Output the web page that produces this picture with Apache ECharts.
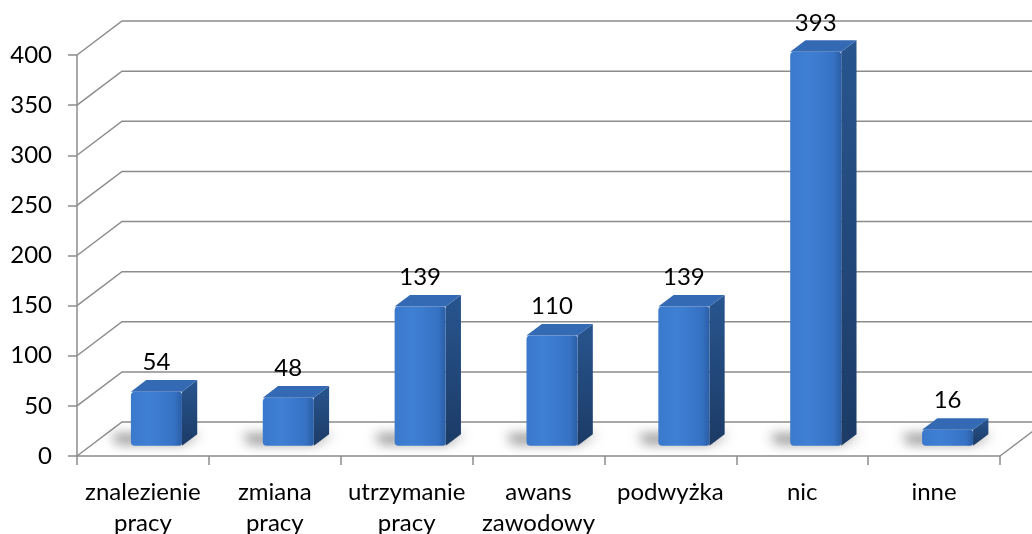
<!DOCTYPE html>
<html lang="pl">
<head>
<meta charset="UTF-8">
<title>Wykres</title>
<script src="https://cdn.jsdelivr.net/npm/echarts@6/dist/echarts.min.js"></script>
<style>
    html, body { margin: 0; padding: 0; background: #fff; }
    #chart { width: 1032px; height: 534px; }
</style>
</head>
<body>
<div id="chart"></div>
<script>
    const categories = ['znalezienie\npracy', 'zmiana\npracy', 'utrzymanie\npracy', 'awans\nzawodowy', 'podwyżka', 'nic', 'inne'];
    const values = [54, 48, 139, 110, 139, 393, 16];
    const yTicks = [0, 50, 100, 150, 200, 250, 300, 350, 400];

    const DX = 45, DY = 34;        // depth of the 3D floor / walls
    const FONT = 'Lato';
    const GRID = '#8c8c8c';
    const FAR = 3000;              // shadow shape is drawn off screen, only its blur is shown

    const chart = echarts.init(document.getElementById('chart'));

    // grid lines drawn as the left wall + back wall
    function wallLine(params, api) {
        const cs = params.coordSys;
        const y = api.coord([0, api.value(1)])[1];
        const x0 = cs.x;
        const children = [{
            type: 'polyline',
            shape: { points: [[x0, y], [x0 + DX, y - DY], [x0 + cs.width + 200, y - DY]] },
            style: { stroke: GRID, lineWidth: 1.5, fill: null }
        }];
        if (api.value(1) === 0) {
            // right edge of the floor
            const xr = x0 + cs.width;
            children.push({
                type: 'line',
                shape: { x1: xr, y1: y, x2: xr + DX, y2: y - DY },
                style: { stroke: GRID, lineWidth: 1.5 }
            });
        }
        return { type: 'group', children: children, silent: true };
    }

    function bar3d(params, api) {
        const i = api.value(0), v = api.value(1);
        const base = api.coord([i, 0]);
        const top = api.coord([i, v]);
        const w = api.size([1, 0])[0] * 0.387;
        const f = 0.3, d = 0.34;
        const cx = base[0] + f * DX;
        const by = base[1] - f * DY;
        const ty = top[1] - f * DY;
        const x1 = cx - w / 2, x2 = cx + w / 2;
        const ox = d * DX, oy = d * DY;

        return {
            type: 'group',
            children: [
                {   // soft floor shadow
                    type: 'polygon',
                    shape: { points: [[x1 - 14 - FAR, by - 2], [x2 - FAR, by - 2], [x2 + ox + 4 - FAR, by - oy], [x1 - 20 - FAR, by - oy]] },
                    style: { fill: '#000', shadowBlur: 12, shadowOffsetX: FAR, shadowColor: 'rgba(0,0,0,0.45)' }
                },
                {   // side face
                    type: 'polygon',
                    shape: { points: [[x2, ty], [x2 + ox, ty - oy], [x2 + ox, by - oy], [x2, by]] },
                    style: {
                        fill: new echarts.graphic.LinearGradient(0, 0, 0, 1, [
                            { offset: 0, color: '#28558f' },
                            { offset: 1, color: '#1c3b66' }
                        ])
                    }
                },
                {   // top face
                    type: 'polygon',
                    shape: { points: [[x1, ty], [x1 + ox, ty - oy], [x2 + ox, ty - oy], [x2, ty]] },
                    style: { fill: '#3469b3' }
                },
                {   // front face
                    type: 'rect',
                    shape: { x: x1, y: ty, width: w, height: by - ty, r: [4, 3, 3, 4] },
                    style: {
                        fill: new echarts.graphic.LinearGradient(0, 0, 1, 0, [
                            { offset: 0, color: '#3a79cc' },
                            { offset: 0.35, color: '#3f80d4' },
                            { offset: 0.85, color: '#3672c4' },
                            { offset: 1, color: '#2b5ea6' }
                        ])
                    }
                },
                {
                    type: 'text',
                    style: {
                        x: cx, y: ty - 29, text: String(v),
                        font: '24px ' + FONT, fill: '#000',
                        align: 'center', verticalAlign: 'middle'
                    }
                }
            ]
        };
    }

    const option = {
        animation: false,
        grid: { left: 77, right: 32, top: 55, bottom: 78, containLabel: false, outerBoundsMode: 'none' },
        xAxis: {
            type: 'category',
            data: categories,
            boundaryGap: true,
            axisLine: { lineStyle: { color: GRID, width: 1.5 } },
            axisTick: { show: true, length: 9, lineStyle: { color: GRID, width: 1.5 } },
            axisLabel: { color: '#000', fontFamily: FONT, fontSize: 24, lineHeight: 31, margin: 21, interval: 0 }
        },
        yAxis: {
            type: 'value',
            min: 0, max: 400, interval: 50,
            axisLine: { show: true, lineStyle: { color: GRID, width: 1.5 } },
            axisTick: { show: true, length: 9, lineStyle: { color: GRID, width: 1.5 } },
            axisLabel: { color: '#000', fontFamily: FONT, fontSize: 24, margin: 25 },
            splitLine: { show: false }
        },
        series: [
            {
                type: 'custom',
                z: 1,
                renderItem: wallLine,
                data: yTicks.map(t => [0, t]),
                encode: { x: 0, y: 1 }
            },
            {
                type: 'custom',
                z: 3,
                renderItem: bar3d,
                data: values.map((v, i) => [i, v]),
                encode: { x: 0, y: 1 }
            }
        ]
    };
    chart.setOption(option);
</script>
</body>
</html>
